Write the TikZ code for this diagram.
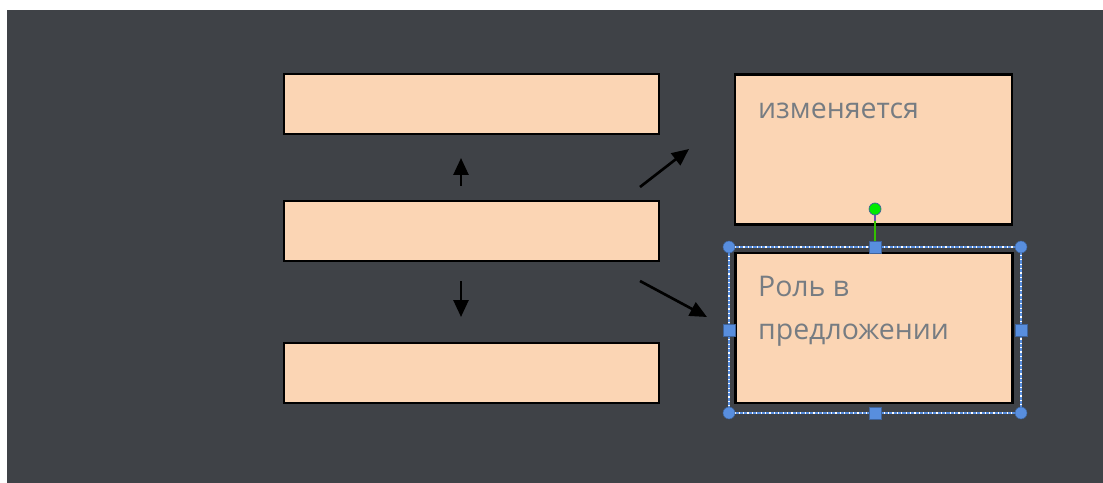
\documentclass[tikz,border=0pt]{standalone}
\usepackage{fontspec}
\setmainfont{Open Sans}
\usetikzlibrary{positioning,arrows.meta}
\definecolor{slate}{RGB}{63,66,71}
\definecolor{peach}{RGB}{251,213,180}
\definecolor{labelgray}{RGB}{118,124,130}
\definecolor{selblue}{RGB}{88,142,222}
\definecolor{rotgreen}{RGB}{0,235,0}
\tikzset{
  box/.style={draw=black, line width=1.3pt, fill=peach, inner sep=0pt},
  wide/.style={minimum width=7.5cm, minimum height=1.2cm},
  tall/.style={minimum width=5.54cm, minimum height=3cm},
  lbl/.style={font=\fontsize{16.2}{25}\selectfont, text=labelgray, inner sep=0pt, align=left},
  arr/.style={-{Triangle[length=0.34cm, width=0.3cm]}, line width=1.5pt, black},
  handle/.style={fill=selblue, draw=selblue!70!black, line width=0.3pt}
}

\begin{document}
\begin{tikzpicture}[x=0.02cm, y=-0.02cm]
    % Canvas
    \fill[white] (0,0) rectangle (1103,483);
    \fill[slate] (7,10) rectangle (1103,483);
    \useasboundingbox (0,0) rectangle (1103,483);

    % Left column
    \node (mid) [box, wide] at (471.5,231) {};
    \node (upper) [box, wide, node distance=2.54cm, above of=mid] {};
    \node (lower) [box, wide, node distance=2.84cm, below of=mid] {};

    % Right column
    \node (chg) [box, tall, node distance=8.04cm, right of=mid, yshift=1.63cm] {};
    \node (role) [box, tall, node distance=8.05cm, right of=mid, yshift=-1.94cm] {};

    % Labels
    \node (chgtxt) [lbl, anchor=base west] at ([xshift=0.48cm, yshift=-0.9cm]chg.north west) {изменяется};
    \node (roletxt) [lbl, anchor=north west] at ([xshift=0.47cm, yshift=-0.47cm]role.north west) {Роль в\\предложении};

    % Arrows
    \coordinate (upS) at (461,186);
    \coordinate (upE) at (461,158);
    \coordinate (dnS) at (461,281);
    \coordinate (dnE) at (461,317);
    \coordinate (neS) at (640,187);
    \coordinate (neE) at (689,149);
    \coordinate (seS) at (640,281);
    \coordinate (seE) at (707,317);
    \draw[arr] (upS) -- (upE);
    \draw[arr] (dnS) -- (dnE);
    \draw[arr] (neS) -- (neE);
    \draw[arr] (seS) -- (seE);

    % Selection frame
    \draw[selblue, line width=1.5pt] (729,247) rectangle (1021,413);
    \draw[white, line width=0.7pt, dash pattern=on 0.7pt off 1.8pt] (729,247) rectangle (1021,413);
    \draw[rotgreen!60!olive, line width=0.9pt] (875,247) -- (875,215);
    \draw[selblue!60!violet, line width=0.9pt] (875,221) -- (875,214);
    \fill[rotgreen, draw=selblue!70!black, line width=0.4pt] (875,209) circle (0.12cm);
    \foreach \cx/\cy in {729/247, 1021/247, 729/413, 1021/413}
      \filldraw[handle] (\cx,\cy) circle (0.12cm);
    \foreach \cx/\cy in {875/247, 875/413, 729/330, 1021/330}
      \filldraw[handle] (\cx-6,\cy-6) rectangle (\cx+6,\cy+6);
\end{tikzpicture}
\end{document}
